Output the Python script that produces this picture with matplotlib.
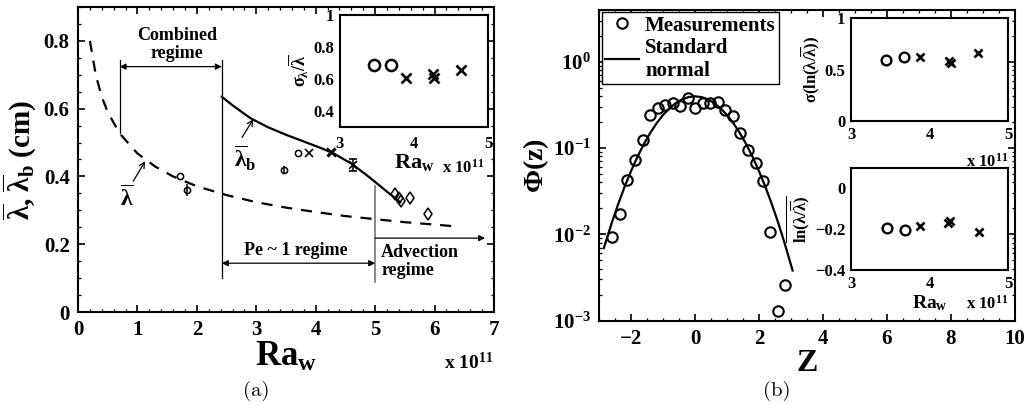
import numpy as np
import matplotlib
matplotlib.use("Agg")
import matplotlib.pyplot as plt
from matplotlib.ticker import MultipleLocator, LogLocator, NullFormatter

plt.rcParams['font.family'] = ['Liberation Serif', 'DejaVu Serif']
plt.rcParams['font.weight'] = 'bold'
plt.rcParams['axes.labelweight'] = 'bold'
plt.rcParams['mathtext.fontset'] = 'custom'
plt.rcParams['mathtext.rm'] = 'Liberation Serif:bold'
plt.rcParams['mathtext.it'] = 'Liberation Serif:bold'
plt.rcParams['mathtext.bf'] = 'Liberation Serif:bold'
plt.rcParams['axes.linewidth'] = 1.5
plt.rcParams['xtick.direction'] = 'in'
plt.rcParams['ytick.direction'] = 'in'
plt.rcParams['xtick.top'] = True
plt.rcParams['ytick.right'] = True

# ---- (a) wavelength vs Ra_w ----
dash_x = [0.2, 0.3, 0.4, 0.5, 0.7, 1.0, 1.3, 1.6, 2.0, 2.5, 3.0, 3.5, 4.0, 4.5, 5.0, 5.5, 6.0, 6.4]
dash_y = [0.800, 0.699, 0.635, 0.590, 0.527, 0.468, 0.429, 0.400, 0.371, 0.345,
          0.324, 0.308, 0.295, 0.283, 0.274, 0.265, 0.258, 0.252]
lamb_x = [2.42, 2.6, 2.9, 3.2, 3.5, 3.8, 4.1, 4.3, 4.6, 4.9, 5.2, 5.42]
lamb_y = [0.635, 0.610, 0.572, 0.545, 0.523, 0.503, 0.483, 0.468, 0.438, 0.398, 0.355, 0.324]

circ_x = [1.72, 3.70]
circ_y = [0.400, 0.470]
phi_x = [1.83, 3.46]
phi_y = [0.361, 0.419]
phi_err = [0.018, 0.012]
cross_x = [3.89, 4.25, 4.28]
cross_y = [0.470, 0.472, 0.468]
cross_err_x = [4.63]
cross_err_y = [0.433]
cross_err = [0.018]
diam_x = [5.34, 5.40, 5.43, 5.59, 5.89]
diam_y = [0.347, 0.335, 0.328, 0.335, 0.289]

# inset (a): sigma_lambda / mean lambda
ins_circ_x = [3.46, 3.685]
ins_circ_y = [0.684, 0.684]
ins_cross_x = [3.89, 4.25, 4.27, 4.63]
ins_cross_y = [0.605, 0.630, 0.605, 0.658]

# ---- (b) normalised distribution ----
meas_z = [-2.60, -2.34, -2.12, -1.86, -1.63, -1.40, -1.17, -0.94, -0.70, -0.47, -0.23, 0.00,
          0.24, 0.47, 0.71, 0.95, 1.18, 1.41, 1.65, 1.91, 2.14, 2.35, 2.58, 2.82]
meas_phi = [0.0093, 0.017, 0.043, 0.072, 0.123, 0.24, 0.295, 0.32, 0.33, 0.31, 0.38, 0.29,
            0.33, 0.33, 0.34, 0.275, 0.236, 0.149, 0.095, 0.068, 0.041, 0.0107, 0.0013, 0.0026]
norm_z = [-2.85, -2.6, -2.4, -2.2, -2.0, -1.8, -1.6, -1.4, -1.2, -1.0, -0.8, -0.6, -0.4, -0.2, 0.0,
          0.2, 0.4, 0.6, 0.8, 1.0, 1.2, 1.4, 1.6, 1.8, 2.0, 2.2, 2.4, 2.6, 2.8, 3.05]
norm_phi = [0.0069, 0.0136, 0.0224, 0.0355, 0.0540, 0.0790, 0.1109, 0.1497, 0.1942, 0.2420,
            0.2897, 0.3332, 0.3683, 0.3910, 0.3989, 0.3910, 0.3683, 0.3332, 0.2897, 0.2420,
            0.1942, 0.1497, 0.1109, 0.0790, 0.0540, 0.0355, 0.0224, 0.0136, 0.0079, 0.0038]

# insets (b): std and mean of ln(lambda / mean lambda)
sd_circ_x = [3.45, 3.675]
sd_circ_y = [0.59, 0.62]
sd_cross_x = [3.88, 4.25, 4.27, 4.62]
sd_cross_y = [0.62, 0.58, 0.565, 0.665]
mn_circ_x = [3.46, 3.69]
mn_circ_y = [-0.194, -0.205]
mn_cross_x = [3.88, 4.24, 4.26, 4.63]
mn_cross_y = [-0.184, -0.172, -0.161, -0.216]

W, H = 1025, 405
fig = plt.figure(figsize=(W / 100, H / 100), dpi=100)


def box(l, t, r, b):
    return [l / W, 1 - b / H, (r - l) / W, (b - t) / H]


lbar = r'$\overline{\lambda}$'

# ------------------------------------------------------------ panel (a)
ax = fig.add_axes(box(78, 7, 494, 312))
ax.plot(dash_x, dash_y, 'k--', lw=1.6, dashes=(5, 4))
ax.plot(lamb_x, lamb_y, 'k-', lw=1.6)
ax.plot(circ_x, circ_y, 'ko', mfc='none', ms=4.5, mew=1.1)
ax.errorbar(phi_x, phi_y, yerr=phi_err, fmt='ko', mfc='none', ms=4.5, mew=1.1,
            elinewidth=1.1, capsize=0)
ax.plot(cross_x, cross_y, 'kx', ms=5.5, mew=1.2)
ax.errorbar(cross_err_x, cross_err_y, yerr=cross_err, fmt='kx', ms=5.5, mew=1.2,
            elinewidth=1.1, capsize=3)
ax.plot(diam_x, diam_y, 'kd', mfc='none', ms=6, mew=1.1)

# regime boundaries
ax.plot([0.7, 0.7], [0.527, 0.745], 'k-', lw=0.9)
ax.plot([2.42, 2.42], [0.10, 0.745], 'k-', lw=0.9)
ax.plot([5.0, 5.0], [0.09, 0.371], '-', color='0.45', lw=1.2)
arr = dict(arrowstyle='<|-|>', color='k', lw=0.9, mutation_scale=9, shrinkA=0, shrinkB=0)
ax.annotate('', xy=(0.7, 0.724), xytext=(2.42, 0.724), arrowprops=arr)
ax.annotate('', xy=(2.42, 0.144), xytext=(5.0, 0.144), arrowprops=arr)
ax.annotate('', xy=(6.85, 0.218), xytext=(5.0, 0.218),
            arrowprops=dict(arrowstyle='-|>', color='k', lw=0.9, mutation_scale=9,
                            shrinkA=0, shrinkB=0))
ax.text(1.66, 0.79, 'Combined\nregime', ha='center', va='center', fontsize=13,
        linespacing=1.1)
ax.text(3.67, 0.182, 'Pe ~ 1 regime', ha='center', va='center', fontsize=13)
ax.text(5.1, 0.15, 'Advection\nregime', ha='left', va='center', fontsize=13,
        linespacing=1.1)

# curve labels
small_arr = dict(arrowstyle='->', color='k', lw=0.9, shrinkA=0, shrinkB=0)
ax.annotate('', xy=(1.13, 0.445), xytext=(0.93, 0.386), arrowprops=small_arr)
ax.text(0.82, 0.335, lbar, ha='center', va='center', fontsize=17)
ax.annotate('', xy=(2.95, 0.569), xytext=(2.76, 0.515), arrowprops=small_arr)
ax.text(2.82, 0.452, r'$\overline{\lambda}_\mathrm{b}$', ha='center', va='center', fontsize=17)

ax.set_xlim(0, 7)
ax.set_ylim(0, 0.9)
ax.set_xticks(range(8))
ax.set_yticks([0, 0.2, 0.4, 0.6, 0.8])
ax.set_yticklabels(['0', '0.2', '0.4', '0.6', '0.8'])
ax.xaxis.set_minor_locator(MultipleLocator(0.2))
ax.yaxis.set_minor_locator(MultipleLocator(0.05))
ax.tick_params(which='major', length=5, width=1.2, labelsize=15, pad=6)
ax.tick_params(which='minor', length=2.5, width=0.9)
ax.set_xlabel(r'Ra$_\mathrm{w}$', fontsize=25, labelpad=0)
ax.set_ylabel(lbar + ', ' + r'$\overline{\lambda}_\mathrm{b}$' + ' (cm)', fontsize=21, labelpad=4)
ax.text(0.94, -0.165, r'x 10$^{11}$', transform=ax.transAxes, ha='center', va='center',
        fontsize=14)

# inset (a)
ia = fig.add_axes(box(340, 15, 488, 126.7))
ia.plot(ins_circ_x, ins_circ_y, 'ko', mfc='none', ms=8, mew=1.8)
ia.plot(ins_cross_x, ins_cross_y, 'kx', ms=6.5, mew=1.9)
ia.set_xlim(3, 5)
ia.set_ylim(0.3, 1)
ia.set_xticks([3, 4, 5])
ia.set_yticks([0.4, 0.6, 0.8, 1.0])
ia.set_yticklabels(['0.4', '0.6', '0.8', '1'])
ia.tick_params(length=0, labelsize=12, pad=4)
ia.tick_params(axis='x', pad=7)
ia.set_xlabel(r'Ra$_\mathrm{w}$', fontsize=16, labelpad=0)
ia.set_ylabel(r'$\sigma_\lambda/\overline{\lambda}$', fontsize=13, labelpad=2)
ia.text(0.83, -0.37, r'x 10$^{11}$', transform=ia.transAxes, ha='center', va='center',
        fontsize=12)

# ------------------------------------------------------------ panel (b)
bx = fig.add_axes(box(599, 10, 1015, 320.5))
bx.semilogy(meas_z, meas_phi, 'ko', mfc='none', ms=7.5, mew=1.5, label='Measurements')
bx.semilogy(norm_z, norm_phi, 'k-', lw=1.6, label='Standard\nnormal')
bx.set_xlim(-3, 10)
bx.set_ylim(1e-3, 4)
bx.set_xticks([-2, 0, 2, 4, 6, 8, 10])
bx.set_xticklabels(['\u22122', '0', '2', '4', '6', '8', '10'])
bx.xaxis.set_minor_locator(MultipleLocator(0.5))
bx.set_yticks([1e-3, 1e-2, 1e-1, 1e0])
bx.set_yticklabels([r'10$^{-3}$', r'10$^{-2}$', r'10$^{-1}$', r'10$^{0}$'])
bx.yaxis.set_minor_locator(LogLocator(base=10, subs=np.arange(2, 10)))
bx.yaxis.set_minor_formatter(NullFormatter())
bx.tick_params(which='major', length=5, width=1.2, labelsize=15, pad=6)
bx.tick_params(which='minor', length=2.5, width=0.9)
bx.set_xlabel('Z', fontsize=23, labelpad=0)
bx.set_ylabel(r'$\Phi$(z)', fontsize=20, labelpad=1)
leg = bx.legend(loc='upper left', bbox_to_anchor=(0.008, 0.992), fontsize=15, numpoints=1,
                fancybox=False, framealpha=1, edgecolor='k', borderpad=0.15,
                handlelength=1.6, handletextpad=0.3, labelspacing=0.1, borderaxespad=0)
leg.get_frame().set_linewidth(1.0)

# inset (b), upper: spread
ib1 = fig.add_axes(box(851, 18, 1008, 121))
ib1.plot(sd_circ_x, sd_circ_y, 'ko', mfc='none', ms=7, mew=1.7)
ib1.plot(sd_cross_x, sd_cross_y, 'kx', ms=5.5, mew=1.9)
ib1.set_xlim(3, 5)
ib1.set_ylim(0, 1)
ib1.set_xticks([3, 4, 5])
ib1.set_yticks([0, 0.5, 1])
ib1.set_yticklabels(['0', '0.5', '1'])
ib1.tick_params(length=0, labelsize=12, pad=4)
ib1.set_ylabel(r'$\sigma$(ln($\lambda/\overline{\lambda}$))', fontsize=12, labelpad=2)
ib1.text(0.87, -0.4, r'x 10$^{11}$', transform=ib1.transAxes, ha='center', va='center',
         fontsize=12)

# inset (b), lower: mean
ib2 = fig.add_axes(box(851, 168, 1008, 270))
ib2.plot(mn_circ_x, mn_circ_y, 'ko', mfc='none', ms=7, mew=1.7)
ib2.plot(mn_cross_x, mn_cross_y, 'kx', ms=5.5, mew=1.9)
ib2.set_xlim(3, 5)
ib2.set_ylim(-0.4, 0.1)
ib2.set_xticks([3, 4, 5])
ib2.set_yticks([-0.4, -0.2, 0])
ib2.set_yticklabels(['\u22120.4', '\u22120.2', '0'])
ib2.tick_params(length=0, labelsize=12, pad=4)
ib2.set_ylabel(r'$\overline{\mathrm{ln}(\lambda/\overline{\lambda})}$', fontsize=12, labelpad=2)
ib2.set_xlabel(r'Ra$_\mathrm{w}$', fontsize=14, labelpad=1)
ib2.text(0.87, -0.33, r'x 10$^{11}$', transform=ib2.transAxes, ha='center', va='center',
         fontsize=12)

fig.text(256 / W, 1 - 391 / H, '(a)', family='cmr10', fontweight='normal', fontsize=15,
         ha='center', va='center')
fig.text(777 / W, 1 - 391 / H, '(b)', family='cmr10', fontweight='normal', fontsize=15,
         ha='center', va='center')

fig.savefig('out.png', dpi=100)
